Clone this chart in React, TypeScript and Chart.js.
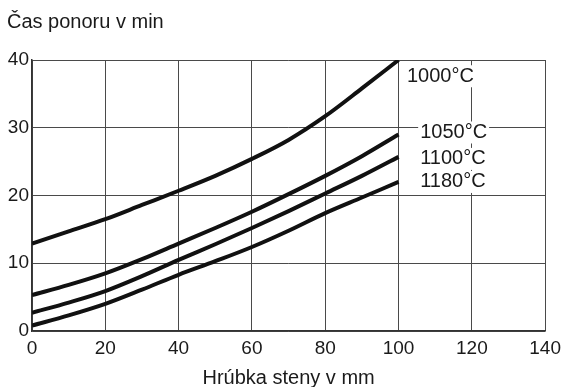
import React, { useEffect, useRef } from "react";
import { Chart, registerables } from "chart.js";

Chart.register(...registerables);

const thickness: number[] = [0, 10, 20, 30, 40, 50, 60, 70, 80, 90, 100];
const t1000: number[] = [12.9, 14.7, 16.5, 18.6, 20.7, 22.9, 25.4, 28.2, 31.7, 35.8, 40.0];
const t1050: number[] = [5.3, 6.8, 8.5, 10.6, 12.9, 15.2, 17.6, 20.2, 22.9, 25.8, 29.0];
const t1100: number[] = [2.7, 4.2, 5.9, 8.1, 10.5, 12.8, 15.2, 17.7, 20.3, 22.9, 25.7];
const t1180: number[] = [0.8, 2.3, 4.0, 6.1, 8.3, 10.3, 12.4, 14.8, 17.4, 19.7, 22.0];
const seriesLabels: string[] = ["1000°C", "1050°C", "1100°C", "1180°C"];
const xTicks: number[] = [0, 20, 40, 60, 80, 100, 120, 140];
const yTicks: number[] = [0, 10, 20, 30, 40];
const yTitle = "Čas ponoru v min";
const xTitle = "Hrúbka steny v mm";

const FONT = "'Liberation Sans', Arial, Helvetica, sans-serif";

export default function App() {
  const ref = useRef<HTMLCanvasElement | null>(null);

  useEffect(() => {
    document.body.style.margin = "0";
    document.body.style.overflow = "hidden";
    const canvas = ref.current;
    if (!canvas) return;

    // label anchors in data units (x, y)
    const labelAnchors = [
      { x: 102.3, y: 37.6 },
      { x: 105.9, y: 29.3 },
      { x: 105.9, y: 25.4 },
      { x: 105.9, y: 22.0 },
    ];

    const annotate = {
      id: "annotate",
      afterDraw(chart: any) {
        const ctx = chart.ctx;
        const xs = chart.scales.x;
        const ys = chart.scales.y;
        ctx.save();
        ctx.font = `20px ${FONT}`;
        ctx.textBaseline = "middle";
        ctx.textAlign = "left";
        ctx.fillStyle = "#1a1a1a";
        ctx.fillText(yTitle, 7, 22);
        seriesLabels.forEach((lab, i) => {
          const px = xs.getPixelForValue(labelAnchors[i].x);
          const py = ys.getPixelForValue(labelAnchors[i].y);
          const w = ctx.measureText(lab).width;
          ctx.fillStyle = "#ffffff";
          ctx.fillRect(px - 2, py - 11, w + 4, 22);
        });
        seriesLabels.forEach((lab, i) => {
          const px = xs.getPixelForValue(labelAnchors[i].x);
          const py = ys.getPixelForValue(labelAnchors[i].y);
          ctx.fillStyle = "#1a1a1a";
          ctx.fillText(lab, px, py);
        });
        ctx.restore();
      },
    };

    const mk = (data: number[]) =>
      thickness.map((x, i) => ({ x, y: data[i] }));

    const chart = new Chart(canvas, {
      type: "line",
      data: {
        datasets: [t1000, t1050, t1100, t1180].map((d, i) => ({
          label: seriesLabels[i],
          data: mk(d),
          borderColor: "#111111",
          borderWidth: 4,
          pointRadius: 0,
          fill: false,
          tension: 0.4,
          cubicInterpolationMode: "monotone" as const,
          borderCapStyle: "butt" as const,
        })),
      },
      options: {
        animation: false,
        responsive: false,
        maintainAspectRatio: false,
        layout: { padding: { left: 0, right: 17, top: 60, bottom: 0 } },
        plugins: {
          legend: { display: false },
          tooltip: { enabled: false },
          title: { display: false },
        },
        scales: {
          x: {
            type: "linear",
            min: 0,
            max: 140,
            afterBuildTicks: (s: any) => {
              s.ticks = xTicks.map((v) => ({ value: v }));
            },
            afterFit: (s: any) => {
              s.height = 56;
            },
            grid: { color: "#4a4a4a", lineWidth: 1, drawTicks: false },
            border: { color: "#333", width: 1.5 },
            ticks: {
              padding: 6,
              color: "#1a1a1a",
              font: { family: FONT, size: 19 },
              maxRotation: 0,
            },
            title: {
              display: true,
              text: xTitle,
              color: "#1a1a1a",
              font: { family: FONT, size: 20, lineHeight: 0.85 },
              padding: { top: 0, bottom: 0 },
            },
          },
          y: {
            type: "linear",
            min: 0,
            max: 40,
            afterBuildTicks: (s: any) => {
              s.ticks = yTicks.map((v) => ({ value: v }));
            },
            afterFit: (s: any) => {
              s.width = 32;
            },
            grid: { color: "#4a4a4a", lineWidth: 1, drawTicks: false },
            border: { color: "#333", width: 1.5 },
            ticks: {
              padding: 3,
              color: "#1a1a1a",
              font: { family: FONT, size: 19 },
            },
          },
        },
      },
      plugins: [annotate],
    });

    return () => chart.destroy();
  }, []);

  return (
    <div style={{ width: 567, height: 387, background: "#fff" }}>
      <canvas ref={ref} width={567} height={387} style={{ display: "block" }} />
    </div>
  );
}
